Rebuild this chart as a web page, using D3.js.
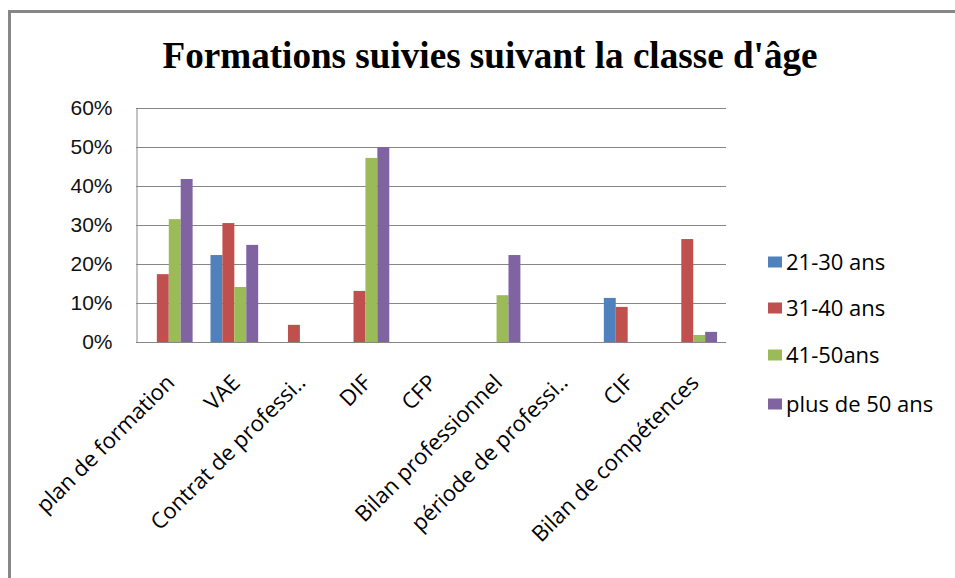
<!DOCTYPE html>
<html><head><meta charset="utf-8">
<script src="https://cdn.jsdelivr.net/npm/d3@7/dist/d3.min.js"></script>
<style>body{margin:0;background:#fff}svg{display:block}</style>
</head><body>
<svg id="chart" width="955" height="578"></svg>
<script>
const title = "Formations suivies suivant la classe d'âge";
const categories = ["plan de formation","VAE","Contrat de professi..","DIF","CFP","Bilan professionnel","période de professi..","CIF","Bilan de compétences"];
const seriesNames = ["21-30 ans","31-40 ans","41-50ans","plus de 50 ans"];
const s2130 = [0, 0.223, 0, 0, 0, 0, 0, 0.113, 0];
const s3140 = [0.174, 0.305, 0.044, 0.131, 0, 0, 0, 0.090, 0.264];
const s4150 = [0.315, 0.141, 0, 0.472, 0, 0.120, 0, 0, 0.018];
const s50p  = [0.418, 0.249, 0, 0.500, 0, 0.223, 0, 0, 0.026];
const yTicks = [0, 0.1, 0.2, 0.3, 0.4, 0.5, 0.6];
const colors = ["#4F81BD","#C0504D","#9BBB59","#8064A2"];

const seriesValues = [s2130, s3140, s4150, s50p];
const svg = d3.select("#chart");

// frame
svg.append("line").attr("x1",9.5).attr("x2",9.5).attr("y1",10).attr("y2",578).attr("stroke","#878787").attr("stroke-width",3);
svg.append("line").attr("x1",8).attr("x2",955).attr("y1",11.5).attr("y2",11.5).attr("stroke","#878787").attr("stroke-width",3);

// title
svg.append("text").attr("x",490).attr("y",68).attr("text-anchor","middle")
  .attr("font-family","'Liberation Serif','Times New Roman',serif").attr("font-weight","bold")
  .attr("font-size",38).attr("textLength",655).attr("lengthAdjust","spacingAndGlyphs")
  .attr("fill","#000").text(title);

const x0 = d3.scaleBand().domain(categories).range([136,726]).padding(0);
const x1 = d3.scaleBand().domain(seriesNames).range([0,x0.bandwidth()]).paddingInner(0).paddingOuter(0.75);
const y = d3.scaleLinear().domain([0,0.6]).range([342,108]);

// gridlines
svg.append("g").selectAll("line").data(yTicks).join("line")
  .attr("x1",136).attr("x2",726).attr("y1",d=>Math.round(y(d))+0.5).attr("y2",d=>Math.round(y(d))+0.5)
  .attr("stroke","#868686").attr("stroke-width",1);

// y axis
const yAxis = d3.axisLeft(y).tickValues(yTicks).tickFormat(d3.format(".0%")).tickSize(0).tickPadding(24);
const gy = svg.append("g").attr("transform","translate(136.5,0)").call(yAxis);
gy.select(".domain").attr("stroke","#868686");
gy.selectAll("text").attr("font-family","'Liberation Sans',Arial,sans-serif").attr("font-size",21).attr("fill","#111");

// bars
const data = [];
categories.forEach((c,i)=>seriesNames.forEach((s,j)=>data.push({c,s,v:seriesValues[j][i],j})));
svg.append("g").selectAll("rect").data(data.filter(d=>d.v>0)).join("rect")
  .attr("x",d=>x0(d.c)+x1(d.s)).attr("width",x1.bandwidth())
  .attr("y",d=>y(d.v)).attr("height",d=>y(0)-y(d.v))
  .attr("fill",d=>colors[d.j]);

// x axis baseline
svg.append("line").attr("x1",136).attr("x2",726).attr("y1",342.5).attr("y2",342.5).attr("stroke","#868686");

// x labels
const xAxis = d3.axisBottom(x0).tickSize(0).tickPadding(0);
const gx = svg.append("g").attr("transform","translate(0,342)").call(xAxis);
gx.select(".domain").remove();
gx.selectAll(".tick text")
  .attr("font-family","'Open Sans',sans-serif").attr("font-size",22).attr("fill","#000")
  .attr("text-anchor","end").attr("dy",0).attr("y",0)
  .attr("transform","translate(7,42) rotate(-45)");

// legend
const lg = svg.append("g").selectAll("g").data(seriesNames).join("g")
  .attr("transform",(d,i)=>`translate(768,${[262,308,355,404][i]})`);
lg.append("rect").attr("x",0).attr("y",-5.5).attr("width",14).attr("height",11).attr("fill",(d,i)=>colors[i]);
lg.append("text").attr("x",18).attr("y",0).attr("dy","0.36em")
  .attr("font-family","'Open Sans',sans-serif").attr("font-size",22).attr("fill","#000").text(d=>d);
</script>
</body></html>
